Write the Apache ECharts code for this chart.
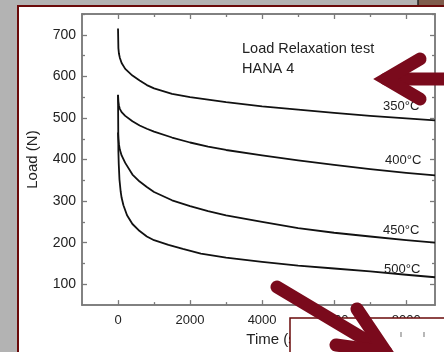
<!DOCTYPE html>
<html><head><meta charset="utf-8">
<script src="https://cdn.jsdelivr.net/npm/echarts@6/dist/echarts.min.js"></script>
<style>html,body{margin:0;padding:0;background:#b3b3b3;}#c{width:444px;height:352px;}</style>
</head><body><div id="c"></div>
<script>
// Time (s) sample points and Load (N) values
const t350 = [0, 10, 25, 50, 100, 200, 400, 600, 800, 1000, 1500, 2000, 2500, 3000, 4000, 5000, 6000, 7000, 8000, 8800];
const v350 = [715, 668, 655, 645, 632, 618, 602, 590, 579, 571, 558, 550, 544, 538, 528, 520, 512, 505, 499, 494];
const t400 = [0, 10, 25, 50, 100, 200, 400, 600, 800, 1000, 1500, 2000, 2500, 3000, 4000, 5000, 6000, 7000, 8000, 8800];
const v400 = [556, 540, 530, 522, 514, 505, 492, 482, 474, 467, 453, 441, 431, 423, 410, 398, 387, 377, 368, 362];
const t450 = [0, 10, 25, 50, 100, 200, 400, 600, 800, 1000, 1500, 2000, 2500, 3000, 4000, 5000, 6000, 7000, 8000, 8800];
const v450 = [465, 450, 437, 424, 410, 392, 364, 347, 334, 322, 302, 288, 276, 266, 250, 235, 224, 215, 206, 200];
const t500 = [0, 10, 20, 40, 75, 100, 150, 250, 400, 600, 800, 1000, 1400, 1800, 2300, 3000, 4000, 5000, 6000, 7000, 8000, 8800];
const v500 = [555, 420, 390, 352, 322, 308, 290, 266, 245, 228, 215, 206, 195, 185, 174, 164, 154, 145, 138, 131, 123, 117];
const seriesNames = ['350°C', '400°C', '450°C', '500°C'];
const xMajor = [0, 2000, 4000, 6000, 8000];
const xMinor = [1000, 3000, 5000, 7000];
const yMajor = [100, 200, 300, 400, 500, 600, 700];
const yMinor = [150, 250, 350, 450, 550, 650, 750];
const titleLines = ['Load Relaxation test', 'HANA 4'];

const FONT = "'Liberation Sans', Arial, sans-serif";
const axisGray = '#7a7a7a';
const dark = '#7a0a1c';
const zip = (a, b) => a.map((x, i) => [x, b[i]]);
const plain = v => String(v);

const chart = echarts.init(document.getElementById('c'), null, {renderer: 'canvas'});

function xAx(pos, ticks, len, labels, extra) {
  return Object.assign({
    type: 'value', min: -1000, max: 8800, position: pos, gridIndex: 0,
    axisLine: {show: true, onZero: false, lineStyle: {color: axisGray, width: 1.5}},
    axisTick: {show: true, inside: true, length: len, customValues: ticks, lineStyle: {color: axisGray, width: 1.3}},
    axisLabel: labels ? {show: true, customValues: ticks, formatter: plain, color: '#222', fontSize: 13, fontFamily: FONT, margin: 9} : {show: false},
    splitLine: {show: false}
  }, extra || {});
}
function yAx(pos, ticks, len, labels, extra) {
  return Object.assign({
    type: 'value', min: 50, max: 750, position: pos, gridIndex: 0,
    axisLine: {show: true, onZero: false, lineStyle: {color: axisGray, width: 1.5}},
    axisTick: {show: true, inside: true, length: len, customValues: ticks, lineStyle: {color: axisGray, width: 1.3}},
    axisLabel: labels ? {show: true, customValues: ticks, formatter: plain, color: '#222', fontSize: 14, fontFamily: FONT, margin: 6} : {show: false},
    splitLine: {show: false}
  }, extra || {});
}

const lineSeries = [[t350, v350], [t400, v400], [t450, v450], [t500, v500]].map((d, i) => ({
  name: seriesNames[i], type: 'line', xAxisIndex: 0, yAxisIndex: 0,
  data: zip(d[0], d[1]), showSymbol: false, smooth: false,
  lineStyle: {color: '#111', width: 1.8, join: 'round'}, z: 3, silent: true
}));

const labelPos = [[383, 106], [385, 160], [383, 230], [384, 269]];

chart.setOption({
  animation: false,
  backgroundColor: 'transparent',
  textStyle: {fontFamily: FONT},
  grid: {left: 82, right: 9, top: 14, bottom: 45, containLabel: false},
  xAxis: [
    xAx('bottom', xMajor, 5, true, {name: 'Time (s)', nameLocation: 'middle', nameGap: 26,
      nameTextStyle: {fontSize: 15, color: '#222', fontFamily: FONT, padding: [0, 0, 0, 30]}}),
    xAx('bottom', xMinor, 3, false),
    xAx('top', xMajor, 5, false),
    xAx('top', xMinor, 3, false)
  ],
  yAxis: [
    yAx('left', yMajor, 5, true, {name: 'Load (N)', nameLocation: 'middle', nameGap: 42, nameRotate: 90,
      nameTextStyle: {fontSize: 15, color: '#222', fontFamily: FONT}}),
    yAx('left', yMinor, 3, false),
    yAx('right', yMajor, 5, false),
    yAx('right', yMinor, 3, false)
  ],
  series: lineSeries,
  graphic: [
    {type: 'rect', z: -100, shape: {x: 18, y: 6, width: 440, height: 360}, style: {fill: '#fff', stroke: '#6a0a0a', lineWidth: 2}},
    {type: 'rect', z: -99, shape: {x: 418, y: 0, width: 30, height: 5}, style: {fill: '#7f5c4c'}},
    {type: 'line', z: -98, shape: {x1: 418, y1: 0, x2: 418, y2: 5}, style: {stroke: '#222', lineWidth: 1.5}},
    {type: 'text', z: 10, x: 242, y: 49, style: {text: titleLines[0], font: '14.5px ' + FONT, fill: '#222', verticalAlign: 'middle'}},
    {type: 'text', z: 10, x: 242, y: 69, style: {text: titleLines[1], font: '14.5px ' + FONT, fill: '#222', verticalAlign: 'middle'}},
    ...seriesNames.map((n, i) => ({type: 'text', z: 10, x: labelPos[i][0], y: labelPos[i][1],
      style: {text: n, font: '13px ' + FONT, fill: '#222', verticalAlign: 'middle'}})),
    {type: 'rect', z: 50, shape: {x: 290, y: 318, width: 170, height: 50}, style: {fill: '#fff', stroke: '#6a0a0a', lineWidth: 1.5}},
    {type: 'line', z: 51, shape: {x1: 401, y1: 332, x2: 401, y2: 337}, style: {stroke: '#888', lineWidth: 1.2}},
    {type: 'line', z: 51, shape: {x1: 424, y1: 332, x2: 424, y2: 337}, style: {stroke: '#888', lineWidth: 1.2}},
    // left-pointing arrow
    {type: 'polyline', z: 60, shape: {points: [[386, 79], [460, 79]]}, style: {stroke: dark, lineWidth: 13, lineCap: 'round', fill: null}},
    {type: 'polyline', z: 60, shape: {points: [[420, 59], [386, 79], [420, 99]]}, style: {stroke: dark, lineWidth: 13, lineCap: 'round', lineJoin: 'miter', fill: null}},
    // down-right arrow
    {type: 'polyline', z: 60, shape: {points: [[277, 287], [386, 352]]}, style: {stroke: dark, lineWidth: 13, lineCap: 'round', fill: null}},
    {type: 'polyline', z: 60, shape: {points: [[357, 309], [386, 352], [336, 345]]}, style: {stroke: dark, lineWidth: 13, lineCap: 'round', lineJoin: 'miter', fill: null}}
  ]
});
</script></body></html>
